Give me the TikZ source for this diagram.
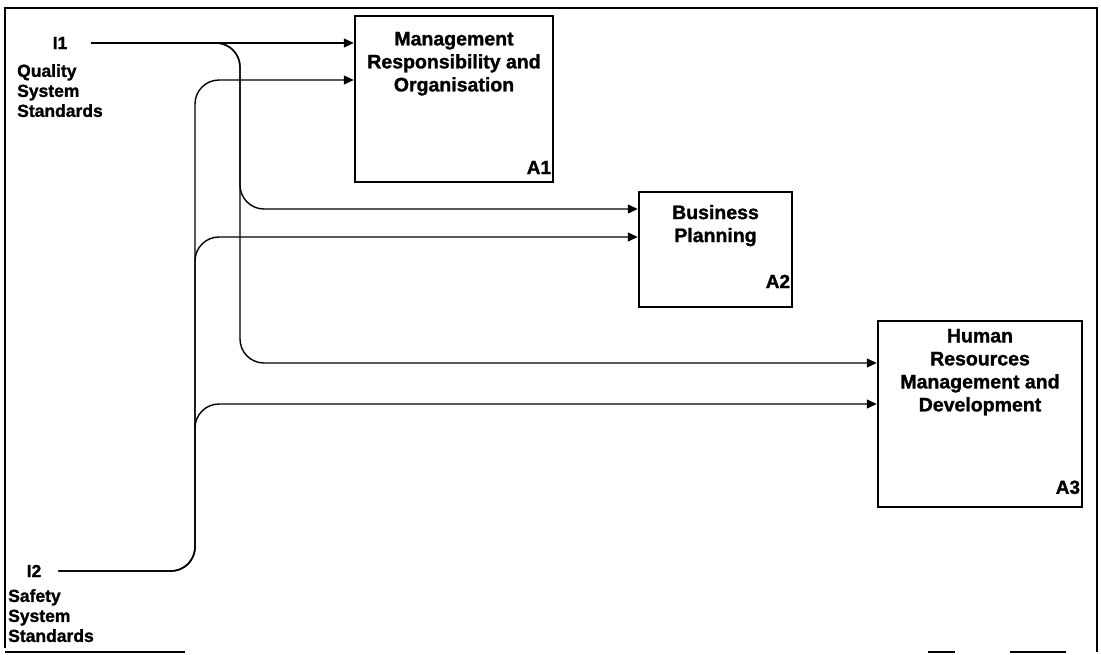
\documentclass[tikz,border=0pt]{standalone}
\usepackage{fontspec}
\setmainfont{Liberation Sans}[BoldFeatures={FakeBold=1.3}]
\usetikzlibrary{arrows.meta}
\begin{document}
\begin{tikzpicture}[x=1pt,y=-1pt,
  frame/.style={line width=2pt},
  actbox/.style={draw,line width=2.5pt,inner sep=0pt},
  boxtitle/.style={anchor=north,align=center,inner sep=0pt,font=\bfseries\fontsize{19.5}{23}\selectfont},
  boxnum/.style={anchor=south east,inner sep=0pt,font=\bfseries\fontsize{19}{20}\selectfont},
  inlabel/.style={inner sep=0pt,font=\bfseries\fontsize{17.5}{20}\selectfont},
  indesc/.style={anchor=north west,align=left,inner sep=0pt,font=\bfseries\fontsize{17.5}{20}\selectfont},
  conn/.style={line width=1.4pt,rounded corners=24pt,-{Triangle[length=10pt,width=9pt]}},
]
\useasboundingbox (0,0) rectangle (1101,654);
% outer frame
\draw[frame] (5,648) -- (5,8) -- (1097,8) -- (1097,652);
\draw[line width=1.2pt] (5,652) -- (185,652);
\draw[line width=1.2pt] (928,652) -- (955,652);
\draw[line width=1.2pt] (1010,652) -- (1066,652);
% activity boxes
\node[actbox,minimum width=198pt,minimum height=166pt] (A1) at (454,99) {};
\node[actbox,minimum width=153pt,minimum height=115pt] (A2) at (715.5,249.5) {};
\node[actbox,minimum width=204pt,minimum height=186pt] (A3) at (980,414) {};
\node[boxtitle] (t1) at ([yshift=-17pt]A1.north) {Management\\Responsibility and\\Organisation};
\node[boxtitle] (t2) at ([yshift=-14pt]A2.north) {Business\\Planning};
\node[boxtitle] (t3) at ([yshift=-9pt]A3.north) {Human\\Resources\\Management and\\Development};
\node[boxnum] (n1) at ([xshift=-3pt,yshift=9pt]A1.south east) {A1};
\node[boxnum] (n2) at ([xshift=-3pt,yshift=20pt]A2.south east) {A2};
\node[boxnum] (n3) at ([xshift=-3pt,yshift=14pt]A3.south east) {A3};
% inputs
\node[inlabel] (i1) at (60,43) {I1};
\node[indesc] (d1) at (17,64) {Quality\\System\\Standards};
\node[inlabel] (i2) at (34,571) {I2};
\node[indesc] (d2) at (8,589) {Safety\\System\\Standards};
\coordinate (s1) at ([xshift=24pt]i1.east);
\coordinate (s2) at ([xshift=17pt]i2.east);
% connectors from I1
\draw[conn] (s1) -- (A1.west |- s1);
\draw[conn] (s1) -- (240,43) -- (240,209) -- (A2.west |- 0,209);
\draw[conn] (s1) -- (240,43) -- (240,363) -- (A3.west |- 0,363);
% connectors from I2
\draw[conn] (s2) -- (195,571) -- (195,80) -- (A1.west |- 0,80);
\draw[conn] (s2) -- (195,571) -- (195,237) -- (A2.west |- 0,237);
\draw[conn] (s2) -- (195,571) -- (195,404) -- (A3.west |- 0,404);
\end{tikzpicture}
\end{document}
